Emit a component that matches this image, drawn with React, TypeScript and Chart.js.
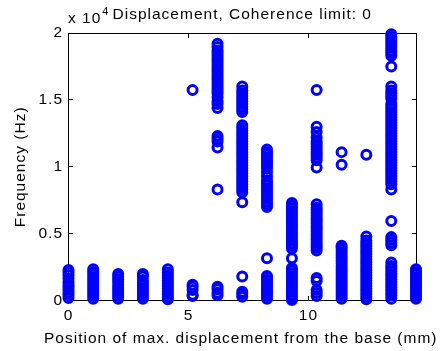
import { useEffect, useRef } from "react";
import { Chart, registerables } from "chart.js";

Chart.register(...registerables);

// Sensor positions along the beam (mm)
const positions = [0, 1.03, 2.07, 3.1, 4.14, 5.17, 6.21, 7.24, 8.27, 9.31, 10.34, 11.38, 12.41, 13.45, 14.48];

// Detected frequencies at each position (units of 10^4 Hz)
const freqPos0 = [0.02, 0.04, 0.06, 0.08, 0.1, 0.12, 0.14, 0.165, 0.19, 0.21, 0.23];
const freqPos1 = [0.015, 0.035, 0.055, 0.075, 0.095, 0.115, 0.135, 0.155, 0.175, 0.195, 0.215, 0.235];
const freqPos2 = [0.015, 0.035, 0.055, 0.075, 0.095, 0.115, 0.14, 0.16, 0.18, 0.2];
const freqPos3 = [0.015, 0.035, 0.055, 0.075, 0.095, 0.115, 0.135, 0.155, 0.18, 0.2];
const freqPos4 = [0.01, 0.03, 0.05, 0.07, 0.09, 0.11, 0.13, 0.15, 0.17, 0.19, 0.21, 0.235];
const freqPos5 = [0.035, 0.045, 0.08, 0.105, 0.12, 1.575];
const freqPos6 = [
  0.04, 0.06, 0.085, 0.105, 0.83, 1.145, 1.19, 1.21, 1.23, 1.44, 1.47, 1.49, 1.52, 1.55, 1.57, 1.59,
  1.61, 1.63, 1.65, 1.67, 1.69, 1.71, 1.73, 1.75, 1.77, 1.79, 1.81, 1.83, 1.85, 1.87, 1.895, 1.92,
];
const freqPos7 = [
  0.03, 0.05, 0.067, 0.18, 0.735, 0.81, 0.83, 0.85, 0.87, 0.89, 0.91, 0.93, 0.95, 0.97, 0.99, 1.01,
  1.03, 1.05, 1.07, 1.09, 1.11, 1.13, 1.15, 1.17, 1.19, 1.21, 1.23, 1.25, 1.27, 1.29, 1.31, 1.41,
  1.43, 1.45, 1.47, 1.49, 1.51, 1.53, 1.55, 1.57, 1.6,
];
const freqPos8 = [
  0.015, 0.035, 0.055, 0.075, 0.095, 0.115, 0.135, 0.155, 0.175, 0.185, 0.317, 0.7, 0.72, 0.74, 0.76,
  0.78, 0.8, 0.82, 0.84, 0.86, 0.88, 0.9, 0.93, 0.96, 0.99, 1.01, 1.03, 1.05, 1.07, 1.09, 1.11, 1.13,
];
const freqPos9 = [
  0.005, 0.025, 0.045, 0.065, 0.085, 0.105, 0.125, 0.145, 0.165, 0.185, 0.205, 0.225, 0.245, 0.317,
  0.39, 0.41, 0.43, 0.45, 0.47, 0.49, 0.51, 0.53, 0.55, 0.57, 0.59, 0.61, 0.63, 0.65, 0.67, 0.69,
  0.71, 0.73,
];
const freqPos10 = [
  0.035, 0.057, 0.08, 0.147, 0.17, 0.375, 0.395, 0.415, 0.435, 0.455, 0.475, 0.495, 0.515, 0.535,
  0.555, 0.575, 0.595, 0.615, 0.635, 0.655, 0.675, 0.695, 0.72, 0.995, 1.05, 1.07, 1.09, 1.11, 1.13,
  1.15, 1.17, 1.19, 1.22, 1.26, 1.3, 1.575,
];
const freqPos11 = [
  0.015, 0.035, 0.055, 0.075, 0.095, 0.115, 0.135, 0.155, 0.175, 0.195, 0.215, 0.235, 0.255, 0.28,
  0.3, 0.32, 0.34, 0.36, 0.38, 0.4, 0.41, 1.015, 1.11,
];
const freqPos12 = [
  0.01, 0.03, 0.05, 0.07, 0.09, 0.11, 0.13, 0.15, 0.17, 0.19, 0.21, 0.23, 0.25, 0.27, 0.29, 0.31,
  0.33, 0.35, 0.37, 0.39, 0.41, 0.43, 0.45, 0.48, 1.09,
];
const freqPos13 = [
  0.015, 0.04, 0.06, 0.08, 0.1, 0.12, 0.14, 0.16, 0.18, 0.2, 0.22, 0.24, 0.26, 0.285, 0.415, 0.435,
  0.455, 0.475, 0.595, 0.83, 0.87, 0.89, 0.91, 0.93, 0.95, 0.97, 0.99, 1.01, 1.03, 1.05, 1.07, 1.09,
  1.11, 1.13, 1.15, 1.17, 1.19, 1.21, 1.23, 1.25, 1.27, 1.29, 1.31, 1.33, 1.35, 1.37, 1.39, 1.41,
  1.43, 1.45, 1.47, 1.51, 1.53, 1.55, 1.57, 1.6, 1.75, 1.83, 1.85, 1.87, 1.89, 1.91, 1.93, 1.95,
  1.97, 1.99,
];
const freqPos14 = [0.015, 0.035, 0.055, 0.075, 0.095, 0.115, 0.135, 0.155, 0.175, 0.195, 0.215, 0.235];

const freqsByPosition = [
  freqPos0, freqPos1, freqPos2, freqPos3, freqPos4, freqPos5, freqPos6, freqPos7,
  freqPos8, freqPos9, freqPos10, freqPos11, freqPos12, freqPos13, freqPos14,
];

const xTicks = [0, 5, 10];
const yTicks = [0, 0.5, 1, 1.5, 2];
const xMin = 0;
const xMax = 14.48;
const yMin = 0;
const yMax = 2;

const titleText = "Displacement, Coherence limit: 0";
const exponentBase = "x 10";
const exponentPower = "4";
const xLabel = "Position of max. displacement from the base (mm)";
const yLabel = "Frequency (Hz)";

const FONT = '"Liberation Sans", Arial, Helvetica, sans-serif';

export default function App() {
  const ref = useRef<HTMLCanvasElement | null>(null);

  useEffect(() => {
    document.body.style.margin = "0";
    const canvas = ref.current;
    if (!canvas) return;

    const points = positions.flatMap((x, i) => freqsByPosition[i].map((y) => ({ x, y })));

    const crisp = (v: number) => Math.floor(v) + 0.5;

    const framePlugin = {
      id: "matlabFrame",
      beforeDraw(chart: any) {
        const ctx = chart.ctx;
        ctx.fillStyle = "#ffffff";
        ctx.fillRect(0, 0, chart.width, chart.height);
        ctx.letterSpacing = "1px";
      },
      beforeDatasetsDraw(chart: any) {
        const ctx = chart.ctx;
        const { left, right, top, bottom } = chart.chartArea;
        const L = crisp(left);
        const R = crisp(right);
        const T = crisp(top);
        const B = crisp(bottom);
        ctx.save();
        ctx.strokeStyle = "#000000";
        ctx.lineWidth = 1;
        ctx.strokeRect(L, T, R - L, B - T);
        const tl = 4.5;
        ctx.beginPath();
        const xs = chart.scales.x;
        xTicks.forEach((v) => {
          const px = crisp(xs.getPixelForValue(v));
          ctx.moveTo(px, B);
          ctx.lineTo(px, B - tl);
          ctx.moveTo(px, T);
          ctx.lineTo(px, T + tl);
        });
        const ys = chart.scales.y;
        yTicks.forEach((v) => {
          const py = crisp(ys.getPixelForValue(v));
          ctx.moveTo(L, py);
          ctx.lineTo(L + tl, py);
          ctx.moveTo(R, py);
          ctx.lineTo(R - tl, py);
        });
        ctx.stroke();
        ctx.restore();
      },
      afterDraw(chart: any) {
        const ctx = chart.ctx;
        const { left, right, top, bottom } = chart.chartArea;
        const cx = (left + right) / 2;
        ctx.save();
        ctx.fillStyle = "#000000";
        ctx.letterSpacing = "1px";
        ctx.textBaseline = "alphabetic";
        ctx.font = `15.5px ${FONT}`;
        ctx.textAlign = "left";
        ctx.fillText(exponentBase, left - 0.5, 22.7);
        const baseW = ctx.measureText(exponentBase).width;
        ctx.font = `11px ${FONT}`;
        ctx.fillText(exponentPower, left - 0.5 + baseW + 1, 14.5);
        ctx.font = `15.5px ${FONT}`;
        ctx.textAlign = "center";
        ctx.fillText(titleText, cx, 19.3);
        ctx.fillText(xLabel, cx - 1.5, 343.3);
        ctx.translate(25, (top + bottom) / 2);
        ctx.rotate(-Math.PI / 2);
        ctx.fillText(yLabel, 0, 0);
        ctx.restore();
      },
    };

    const chart = new Chart(canvas, {
      type: "scatter",
      data: {
        datasets: [
          {
            data: points,
            clip: false,
          } as any,
        ],
      },
      options: {
        animation: false,
        responsive: false,
        events: [],
        elements: {
          point: {
            pointStyle: "circle",
            radius: 4.5,
            hoverRadius: 4.5,
            borderWidth: 3,
            hoverBorderWidth: 3,
            borderColor: "#0000ff",
            backgroundColor: "rgba(0,0,0,0)",
          },
        },
        layout: { padding: { top: 33, right: 25, left: 0, bottom: 0 } },
        plugins: {
          legend: { display: false },
          tooltip: { enabled: false },
          title: { display: false },
        },
        scales: {
          x: {
            type: "linear",
            min: xMin,
            max: xMax,
            afterBuildTicks: (s: any) => {
              s.ticks = xTicks.map((v) => ({ value: v }));
            },
            afterFit: (s: any) => {
              s.height = 50.3;
            },
            grid: { display: false, drawTicks: false },
            border: { display: false },
            ticks: {
              color: "#000000",
              font: { family: FONT, size: 15.5 },
              padding: 6,
              maxRotation: 0,
              autoSkip: false,
            },
          },
          y: {
            type: "linear",
            min: yMin,
            max: yMax,
            afterBuildTicks: (s: any) => {
              s.ticks = yTicks.map((v) => ({ value: v }));
            },
            afterFit: (s: any) => {
              s.width = 68.5;
            },
            grid: { display: false, drawTicks: false },
            border: { display: false },
            ticks: {
              color: "#000000",
              font: { family: FONT, size: 15.5 },
              padding: 5.5,
              autoSkip: false,
              callback: (v: any) => String(v),
            },
          },
        },
      },
      plugins: [framePlugin],
    });

    return () => chart.destroy();
  }, []);

  return (
    <div style={{ width: 441, height: 351 }}>
      <canvas ref={ref} width={441} height={351} style={{ display: "block", width: 441, height: 351 }} />
    </div>
  );
}
